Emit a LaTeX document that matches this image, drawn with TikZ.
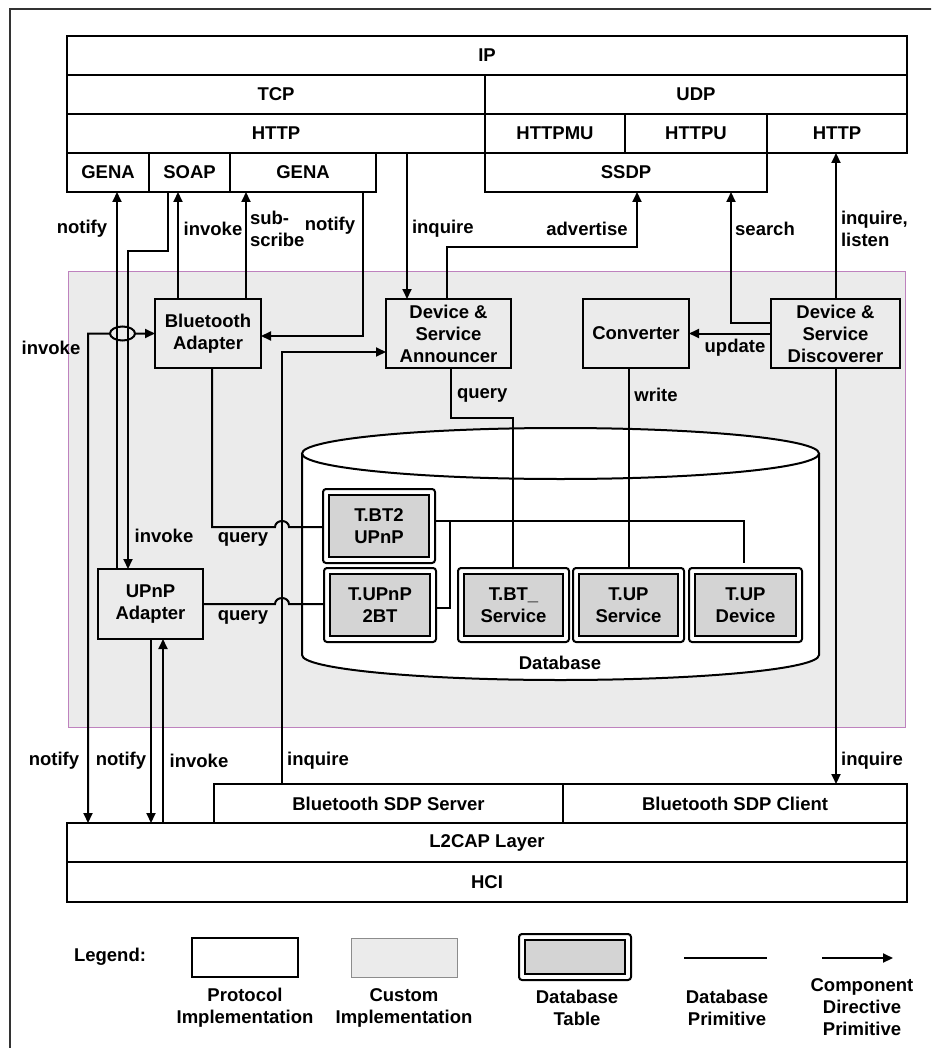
\documentclass[tikz,border=0pt]{standalone}
\usepackage{fontspec}
\setmainfont{Liberation Sans}
\usetikzlibrary{arrows.meta}
\definecolor{custgray}{RGB}{235,235,235}
\definecolor{tabgray}{RGB}{212,212,212}
\definecolor{regborder}{RGB}{190,130,190}
\definecolor{legborder}{RGB}{140,140,140}
\newcommand{\drbox}[7]{%
  \pgfmathsetmacro\drcx{(#3+#5)/2}%
  \pgfmathsetmacro\drcy{(#4+#6)/2}%
  \pgfmathsetmacro\drw{#5-#3}%
  \pgfmathsetmacro\drh{#6-#4}%
  \node[#1, minimum width=\drw pt, minimum height=\drh pt] (#2) at (\drcx,\drcy) {#7};}
\begin{document}
\begin{tikzpicture}[x=1pt,y=-1pt,
  every node/.style={font=\fontsize{18.5}{22}\selectfont\bfseries, inner sep=0pt, outer sep=0pt},
  layer/.style={draw, line width=2pt, fill=white},
  comp/.style={draw, line width=2pt, fill=custgray, align=center},
  tabout/.style={draw, line width=2pt, fill=white, rounded corners=3pt},
  tabin/.style={draw, line width=2pt, fill=tabgray, align=center},
  conn/.style={line width=2pt},
  arr/.style={line width=2pt, -{Triangle[length=10pt,width=9pt]}},
  darr/.style={line width=2pt, {Triangle[length=10pt,width=9pt]}-{Triangle[length=10pt,width=9pt]}},
  multi/.style={align=center}]
\useasboundingbox (0,0) rectangle (931,1048);
% outer frame
\begin{scope}
\clip (0,0) rectangle (931,1048);
\draw[black!80, line width=1.2pt] (10,9) rectangle (960,1080);
\end{scope}

% top protocol stack
\drbox{layer}{ip}{67}{36}{907}{75}{IP}
\drbox{layer}{tcp}{67}{75}{485}{114}{TCP}
\drbox{layer}{udp}{485}{75}{907}{114}{UDP}
\drbox{layer}{http}{67}{114}{485}{153}{HTTP}
\drbox{layer}{httpmu}{485}{114}{625}{153}{HTTPMU}
\drbox{layer}{httpu}{625}{114}{767}{153}{HTTPU}
\drbox{layer}{http2}{767}{114}{907}{153}{HTTP}
\drbox{layer}{gena1}{67}{153}{149}{192}{GENA}
\drbox{layer}{soap}{149}{153}{230}{192}{SOAP}
\drbox{layer}{gena2}{230}{153}{376}{192}{GENA}
\drbox{layer}{ssdp}{485}{153}{767}{192}{SSDP}

% custom region
\drbox{draw=regborder, line width=1pt, fill=custgray}{region}{68}{272}{905}{727}{}

% components
\drbox{comp}{btad}{155}{299}{261}{368}{Bluetooth\\Adapter}
\drbox{comp}{ann}{386}{299}{511}{368}{Device \&\\Service\\Announcer}
\drbox{comp}{conv}{583}{299}{689}{368}{Converter}
\drbox{comp}{disc}{771}{299}{900}{368}{Device \&\\Service\\Discoverer}
\drbox{comp}{upad}{98}{569}{203}{639}{UPnP\\Adapter}

% database cylinder
\draw[line width=2pt, fill=white] (302,453.5) -- (302,655)
  arc[start angle=180, end angle=360, x radius=258.5pt, y radius=25pt] -- (819,453.5);
\draw[line width=2pt, fill=white] (560.5,453.5) ellipse[x radius=258.5pt, y radius=25.5pt];
\node (dblabel) at (560,663) {Database};

% tables
\drbox{tabout}{tbt2u}{323}{489}{435}{563}{}
\drbox{tabin}{tbt2uin}{329}{495}{429}{557}{T.BT2\\UPnP}
\drbox{tabout}{tu2bt}{324}{568}{436}{642}{}
\drbox{tabin}{tu2btin}{330}{574}{430}{636}{T.UPnP\\2BT}
\drbox{tabout}{tbts}{458}{568}{569}{642}{}
\drbox{tabin}{tbtsin}{464}{574}{563}{636}{T.BT\_\\Service}
\drbox{tabout}{tups}{573}{568}{684}{642}{}
\drbox{tabin}{tupsin}{579}{574}{678}{636}{T.UP\\Service}
\drbox{tabout}{tupd}{689}{568}{802}{642}{}
\drbox{tabin}{tupdin}{695}{574}{796}{636}{T.UP\\Device}

% bottom stack
\drbox{layer}{sdps}{214}{784}{563}{823}{Bluetooth SDP Server}
\drbox{layer}{sdpc}{563}{784}{907}{823}{Bluetooth SDP Client}
\drbox{layer}{l2cap}{67}{823}{907}{862}{L2CAP Layer}
\drbox{layer}{hci}{67}{862}{907}{902}{HCI}

% helper coordinates
\coordinate (cA) at (88,0);
\coordinate (c117) at (117,0);
\coordinate (sA) at (168,251);
\coordinate (sB) at (128,251);
\coordinate (cB) at (178,0);
\coordinate (cC) at (246,0);
\coordinate (gB) at (363,336);
\coordinate (cD) at (407,0);
\coordinate (aA) at (447,247);
\coordinate (aB) at (637,247);
\coordinate (sC) at (731,323);
\coordinate (cE) at (836,0);
\coordinate (qA) at (451,418);
\coordinate (qB) at (513,418);
\coordinate (cF) at (629,0);
\coordinate (tA) at (744,521);
\coordinate (tB) at (450,521);
\coordinate (tC) at (450,608);
\coordinate (bq) at (212,527);
\coordinate (iA) at (282,352);
\coordinate (c151) at (151,0);
\coordinate (c163) at (163,0);

% connectors
\draw[darr] (l2cap.north -| cA) -- (cA |- btad.west) -- ([xshift=-45pt]btad.west)
  arc[start angle=180, end angle=0, x radius=12.5pt, y radius=7pt] -- (btad.west);
\draw[conn] ([xshift=-45pt]btad.west) arc[start angle=180, end angle=360, x radius=12.5pt, y radius=7pt];
\draw[arr] (upad.north -| c117) -- (gena1.south -| c117);
\draw[arr] (soap.south -| sA) -- (sA) -- (sB) -- (upad.north -| sB);
\draw[arr] (btad.north -| cB) -- (soap.south -| cB);
\draw[arr] (btad.north -| cC) -- (gena2.south -| cC);
\draw[arr] (gena2.south -| gB) -- (gB) -- (btad.east |- gB);
\draw[arr] (http.south -| cD) -- (ann.north -| cD);
\draw[arr] (ann.north -| aA) -- (aA) -- (aB) -- (ssdp.south -| aB);
\draw[arr] (disc.west |- sC) -- (sC) -- (ssdp.south -| sC);
\draw[arr] (disc.north -| cE) -- (http2.south -| cE);
\draw[arr] (disc.west) -- (conv.east);
\draw[arr] (disc.south -| cE) -- (sdpc.north -| cE);
\draw[conn] (ann.south -| qA) -- (qA) -- (qB) -- (tbts.north -| qB);
\draw[conn] (conv.south -| cF) -- (tups.north -| cF);
\draw[conn] (tbt2u.east |- tA) -- (tA) -- ([yshift=5pt]tupd.north -| tA);
\draw[conn] (tB) -- (tC) -- (tu2bt.east |- tC);
\draw[conn] (btad.south -| bq) -- (bq) -- (275,527)
  arc[start angle=180, end angle=0, x radius=7pt, y radius=6pt] -- (tbt2u.west |- bq);
\draw[conn] (upad.east) -- (275,604)
  arc[start angle=180, end angle=0, x radius=7pt, y radius=6pt] -- (tu2bt.west |- upad.east);
\draw[arr] (sdps.north -| iA) -- (iA) -- (ann.west |- iA);
\draw[arr] (upad.south -| c151) -- (l2cap.north -| c151);
\draw[arr] (l2cap.north -| c163) -- (upad.south -| c163);

% labels
\node (l1) at (82,229) {notify};
\node (l2) at (213,229) {invoke};
\node[anchor=west, align=left] (l3) at (250,229) {sub-\\scribe};
\node (l4) at (330,226) {notify};
\node[anchor=west] (l5) at (412,229) {inquire};
\node (l6) at (587,229) {advertise};
\node (l7) at (765,229) {search};
\node[anchor=west, align=left] (l8) at (841,229) {inquire,\\listen};
\node (l9) at (51,348) {invoke};
\node (l10) at (735,348) {update};
\node[anchor=west] (l11) at (457,395) {query};
\node (l12) at (656,395) {write};
\node (l13) at (164,536) {invoke};
\node (l14) at (243,539) {query};
\node (l15) at (243,617) {query};
\node (l16) at (54,761) {notify};
\node (l17) at (121,761) {notify};
\node (l18) at (199,761) {invoke};
\node (l19) at (318,761) {inquire};
\node (l20) at (872,761) {inquire};

% legend
\node (lg) at (110,957) {Legend:};
\drbox{layer}{lgp}{192}{938}{298}{977}{}
\drbox{draw=legborder, line width=1pt, fill=custgray}{lgc}{351}{938}{457}{977}{}
\drbox{tabout}{lgt}{519}{934}{631}{980}{}
\drbox{tabin}{lgtin}{525}{940}{625}{974}{}
\coordinate (lgd1) at (684,958);
\coordinate (lgd2) at (767,958);
\draw[conn] (lgd1) -- (lgd2);
\coordinate (lga1) at (822,958);
\coordinate (lga2) at (893,958);
\draw[arr] (lga1) -- (lga2);
\node[multi] (lt1) at (245,1008) {Protocol\\Implementation};
\node[multi] (lt2) at (404,1008) {Custom\\Implementation};
\node[multi] (lt3) at (577,1008) {Database\\Table};
\node[multi] (lt4) at (727,1008) {Database\\Primitive};
\node[multi] (lt5) at (862,1007) {Component\\Directive\\Primitive};
\end{tikzpicture}
\end{document}
